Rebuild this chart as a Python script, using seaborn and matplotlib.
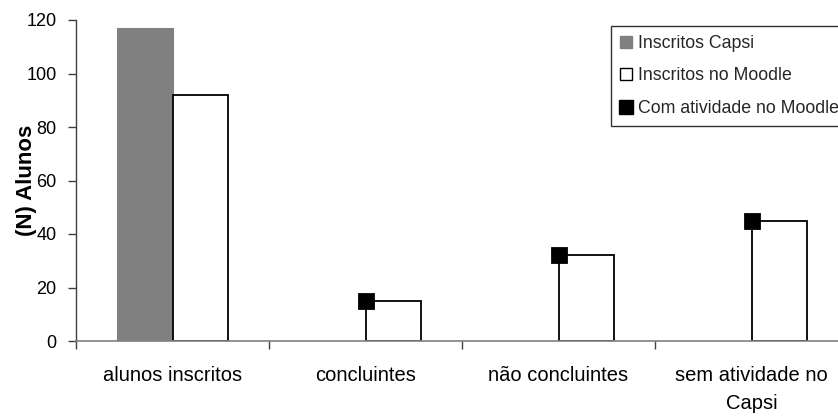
import numpy as np
import pandas as pd
import matplotlib
matplotlib.use("Agg")
import matplotlib.pyplot as plt
from matplotlib.lines import Line2D
import seaborn as sns

# Categorias e séries (número de alunos)
categorias = ["alunos inscritos", "concluintes", "não concluintes", "sem atividade no\nCapsi"]
series_barras = ["Inscritos Capsi", "Inscritos no Moodle"]
inscritos_capsi = [117, np.nan, np.nan, np.nan]
inscritos_moodle = [92, 15, 32, 45]
com_atividade_moodle = [np.nan, 15, 32, 45]
y_ticks = [0, 20, 40, 60, 80, 100, 120]

sns.set_theme(style="white")
plt.rcParams["font.family"] = ["Liberation Sans", "DejaVu Sans"]

df = pd.DataFrame({
    "categoria": categorias * 2,
    "serie": [series_barras[0]] * 4 + [series_barras[1]] * 4,
    "valor": inscritos_capsi + inscritos_moodle,
})

fig = plt.figure(figsize=(8.38, 4.17), dpi=100)
ax = fig.add_axes([76 / 838, 76 / 417, 772 / 838, 321 / 417])

sns.barplot(data=df, x="categoria", y="valor", hue="serie", order=categorias,
            hue_order=series_barras,
            palette={"Inscritos Capsi": "#808080", "Inscritos no Moodle": "white"},
            width=0.58, gap=0, errorbar=None, legend=False, ax=ax)

for patch in ax.containers[0]:
    patch.set_edgecolor("#808080")
    patch.set_linewidth(0.8)
for patch in ax.containers[1]:
    patch.set_edgecolor("black")
    patch.set_linewidth(1.3)

sns.pointplot(x=categorias, y=com_atividade_moodle, order=categorias,
              color="black", marker="s", linestyle="none", markersize=9.5,
              errorbar=None, ax=ax)

ax.set_xlim(-0.5, 3.5)
ax.set_ylim(0, 120)
ax.set_yticks(y_ticks)
ax.set_yticklabels([str(v) for v in y_ticks], fontsize=13, color="black")
ax.set_xticks(range(len(categorias)))
ax.set_xticklabels(categorias, fontsize=14.5, color="black", linespacing=1.6)
ax.set_xticks([i - 0.5 for i in range(len(categorias))], minor=True)
ax.tick_params(axis="x", which="major", length=0, pad=18)
ax.tick_params(axis="x", which="minor", length=6, width=1, color="#404040",
               direction="out", bottom=True)
ax.tick_params(axis="y", length=6, width=1, color="#404040", direction="out",
               left=True, pad=8)

ax.set_xlabel("")
ax.set_ylabel("(N) Alunos", fontsize=16, fontweight="bold", color="black")
ax.yaxis.set_label_coords(-0.05, 0.5)

for side in ["top", "right"]:
    ax.spines[side].set_visible(False)
ax.spines["left"].set_color("#404040")
ax.spines["bottom"].set_color("#808080")
ax.spines["left"].set_linewidth(1)
ax.spines["bottom"].set_linewidth(1.2)

handles = [
    Line2D([], [], marker="s", linestyle="none", markersize=8.6,
           markerfacecolor="#808080", markeredgecolor="#808080"),
    Line2D([], [], marker="s", linestyle="none", markersize=8.2,
           markerfacecolor="white", markeredgecolor="black", markeredgewidth=1),
    Line2D([], [], marker="s", linestyle="none", markersize=10,
           markerfacecolor="black", markeredgecolor="black"),
]
leg = fig.legend(handles, ["Inscritos Capsi", "Inscritos no Moodle", "Com atividade no Moodle"],
                 loc="upper left", bbox_to_anchor=(611 / 838, 1 - 26 / 417),
                 bbox_transform=fig.transFigure, borderaxespad=0, numpoints=1,
                 fontsize=12.8, frameon=True, fancybox=False, edgecolor="black",
                 handlelength=0.7, handleheight=0.7, handletextpad=0.3,
                 labelspacing=0.87, borderpad=0.5)
leg.get_frame().set_linewidth(1)

fig.savefig("out.png", dpi=100)
